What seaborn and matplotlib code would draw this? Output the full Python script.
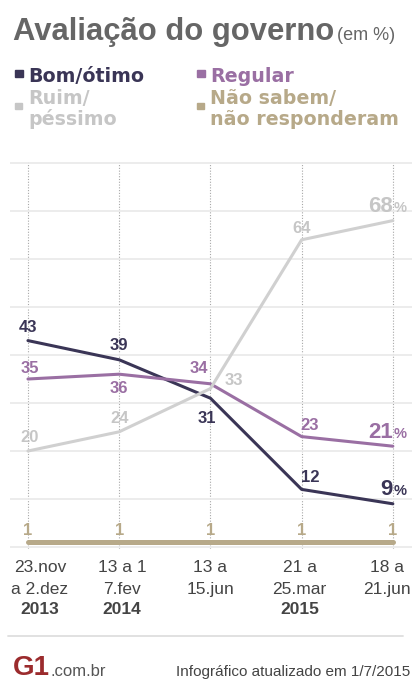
import matplotlib
matplotlib.use("Agg")
import matplotlib.pyplot as plt
import seaborn as sns
import pandas as pd
from matplotlib.lines import Line2D
from matplotlib.patches import Rectangle

# ---------------- data ----------------
period_line1 = ["23.nov", "13 a 1", "13 a", "21 a", "18 a"]
period_line2 = ["a 2.dez", "7.fev", "15.jun", "25.mar", "21.jun"]
years = ["2013", "2014", "", "2015", ""]
bom_otimo = [43, 39, 31, 12, 9]
regular = [35, 36, 34, 23, 21]
ruim_pessimo = [20, 24, 33, 64, 68]
nao_sabem = [1, 1, 1, 1, 1]

series_names = ["Bom/ótimo", "Regular", "Ruim/péssimo", "Não sabem/não responderam"]
series_values = [bom_otimo, regular, ruim_pessimo, nao_sabem]
legend_lines = {
    "Bom/ótimo": ["Bom/ótimo"],
    "Regular": ["Regular"],
    "Ruim/péssimo": ["Ruim/", "péssimo"],
    "Não sabem/não responderam": ["Não sabem/", "não responderam"],
}

# ---------------- styles ----------------
colors = {
    "Bom/ótimo": "#3a3556",
    "Regular": "#9a6fa3",
    "Ruim/péssimo": "#d0d0d0",
    "Não sabem/não responderam": "#b7a989",
}
label_colors = {
    "Bom/ótimo": "#3a3556",
    "Regular": "#9a6fa3",
    "Ruim/péssimo": "#c6c6c6",
    "Não sabem/não responderam": "#b7a989",
}
widths = {"Bom/ótimo": 2.2, "Regular": 2.2, "Ruim/péssimo": 2.2, "Não sabem/não responderam": 3.6}
# label offsets (points, baseline) per series per point; None -> big final label
offsets = {
    "Bom/ótimo": [(0, 6), (0, 7.2), (-2.2, -18), (6.5, 5), None],
    "Regular": [(1.4, 4.3), (0, -13.7), (-8.6, 7.9), (5.8, 5), None],
    "Ruim/péssimo": [(1.4, 6.5), (0, 6.5), (16.6, 2.9), (0, 5), None],
    "Não sabem/não responderam": [(0, 5)] * 5,
}
last_offsets = {"Bom/ótimo": 6.5, "Regular": 5.8, "Ruim/péssimo": 6.5}
tick_dx = [8.6, 2.2, 0, -1.4, -4.3]

sns.set_theme(style="white")
plt.rcParams["font.family"] = ["Liberation Sans", "DejaVu Sans"]

W, H = 412, 681
fig = plt.figure(figsize=(W / 100, H / 100), dpi=100)
fig.patch.set_facecolor("white")


def fx(px):
    return px / W


def fy(py):
    return 1 - py / H


ppu = 4.8  # pixels per unit on y
y_lo, y_hi = -0.4, 80.3
top_px = 547 - y_hi * ppu
bot_px = 547 - y_lo * ppu
ax = fig.add_axes([fx(10), fy(bot_px), fx(402), (bot_px - top_px) / H])
ax.set_facecolor("white")

rows = []
for name, vals in zip(series_names, series_values):
    for i, v in enumerate(vals):
        rows.append({"x": i, "valor": v, "serie": name})
df = pd.DataFrame(rows)

sns.lineplot(data=df, x="x", y="valor", hue="serie", palette=colors, ax=ax,
             legend=False, linewidth=2.2, zorder=3)
for line, name in zip(ax.get_lines(), series_names):
    line.set_linewidth(widths[name])
    line.set_solid_capstyle("round")
    line.set_solid_joinstyle("round")

ax.set_xlim(-0.197, 4.21)
ax.set_ylim(y_lo, y_hi)
ax.set_xlabel("")
ax.set_ylabel("")
ax.set_yticks(range(0, 81, 10))
ax.set_yticklabels([])
ax.set_xticks(range(len(period_line1)))
ax.set_xticklabels([])
ax.tick_params(axis="both", length=0)
for s in ax.spines.values():
    s.set_visible(False)
ax.grid(axis="y", color="#ebebeb", linewidth=1.3, linestyle="-", zorder=0)
ax.grid(axis="x", color="#a8a8a8", linewidth=0.8, linestyle=(0, (1, 1.5)), zorder=0)

# x labels (three lines: two regular, year bold)
for i in range(len(period_line1)):
    for txt, dy, wt in ((period_line1[i], -16.6, "normal"), (period_line2[i], -32.4, "normal"),
                        (years[i], -47.2, "bold")):
        if txt:
            ax.annotate(txt, xy=(i, 0), xycoords=("data", "axes fraction"),
                        xytext=(tick_dx[i], dy), textcoords="offset points",
                        ha="center", va="baseline", fontsize=12.5, fontweight=wt,
                        color="#444444")

# value labels
for name, vals in zip(series_names, series_values):
    for i, v in enumerate(vals):
        off = offsets[name][i]
        if off is None:
            dy = last_offsets[name]
            ax.annotate(str(v), xy=(i, v), xytext=(0, dy), textcoords="offset points",
                        ha="right", va="baseline", fontsize=16, fontweight="bold",
                        color=label_colors[name])
            ax.annotate("%", xy=(i, v), xytext=(0.5, dy), textcoords="offset points",
                        ha="left", va="baseline", fontsize=10.5, fontweight="bold",
                        color=label_colors[name])
        else:
            ax.annotate(str(v), xy=(i, v), xytext=off, textcoords="offset points",
                        ha="center", va="baseline", fontsize=12, fontweight="bold",
                        color=label_colors[name])

# ---------------- title ----------------
fig.text(fx(13), fy(40), "Avaliação do governo", fontsize=22.3, color="#666666",
         ha="left", va="baseline", fontweight="bold")
fig.text(fx(337), fy(40), "(em %)", fontsize=13, color="#666666", ha="left", va="baseline")

# ---------------- legend ----------------
legend_text_x = {"Bom/ótimo": 28, "Regular": 210, "Ruim/péssimo": 28, "Não sabem/não responderam": 210}
legend_baselines = {"Bom/ótimo": [82], "Regular": [82], "Ruim/péssimo": [104, 125],
                    "Não sabem/não responderam": [104, 125]}
legend_square = {"Bom/ótimo": (15, 70, 8, 7), "Regular": (197, 70, 8, 7),
                 "Ruim/péssimo": (15, 103, 7, 6), "Não sabem/não responderam": (197, 103, 7, 6)}
for name in series_names:
    sx, sy, sw, sh = legend_square[name]
    fig.patches.append(Rectangle((fx(sx), fy(sy + sh)), fx(sw), sh / H,
                                 transform=fig.transFigure, color=label_colors[name]))
    for txt, by in zip(legend_lines[name], legend_baselines[name]):
        fig.text(fx(legend_text_x[name]), fy(by), txt, fontsize=13.7, fontweight="bold",
                 family=["DejaVu Sans"], color=label_colors[name], ha="left", va="baseline")

# ---------------- footer ----------------
fig.add_artist(Line2D([fx(8), fx(403)], [fy(636), fy(636)], color="#dedede", linewidth=1.3,
                      transform=fig.transFigure))
fig.text(fx(13), fy(675), "G1", fontsize=20, fontweight="bold", color="#9b2b2d",
         ha="left", va="baseline")
fig.text(fx(50), fy(676), ".com.br", fontsize=12, color="#555555", ha="left", va="baseline")
fig.text(fx(410), fy(676), "Infográfico atualizado em 1/7/2015", fontsize=11,
         color="#444444", ha="right", va="baseline")

fig.savefig("out.png", dpi=100)
